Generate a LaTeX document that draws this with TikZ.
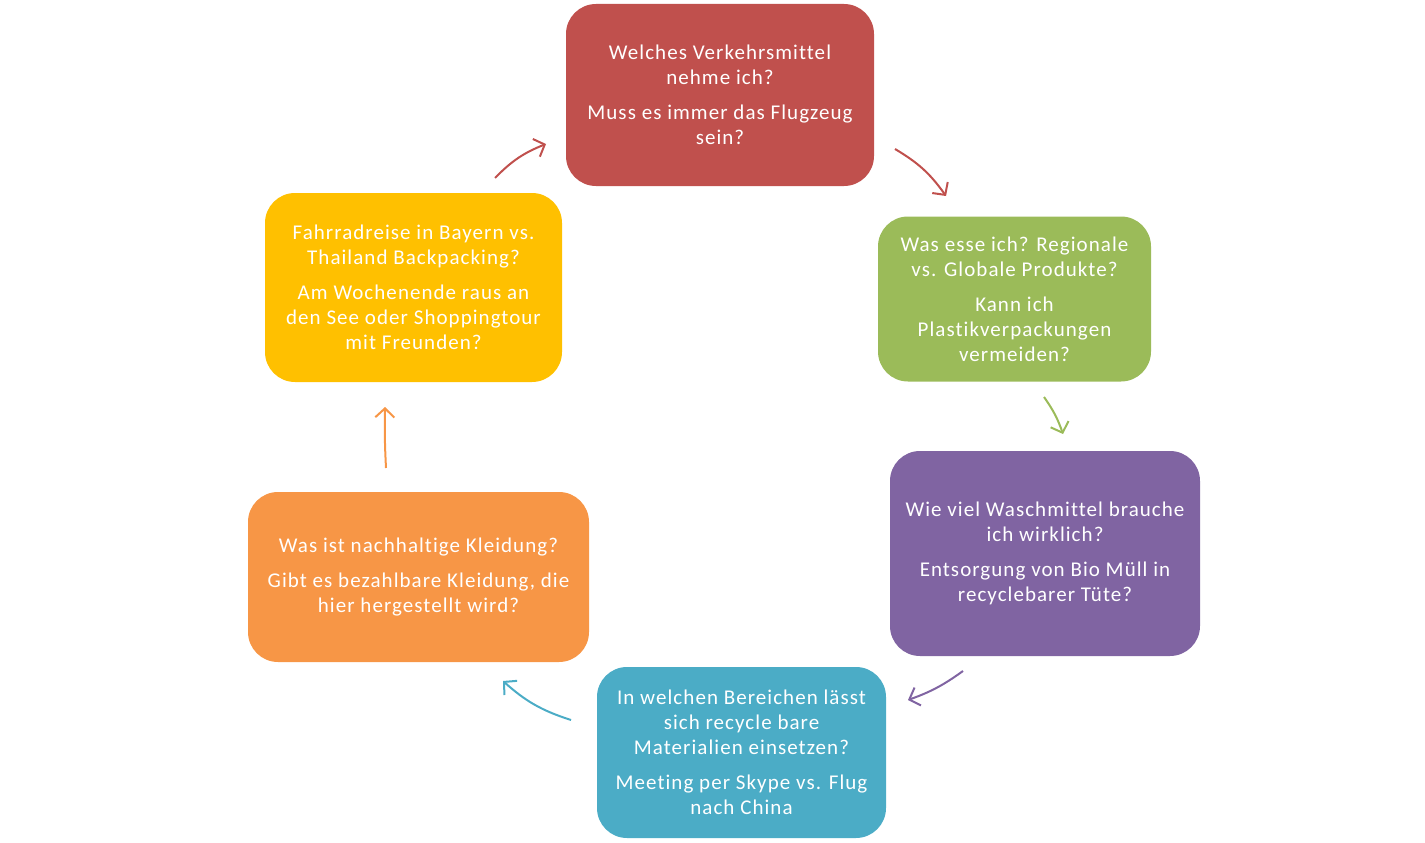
\documentclass[tikz,border=0pt]{standalone}
\usepackage{fontspec}
\setmainfont{Carlito}[Ligatures={NoCommon}, LetterSpace=5]
\usetikzlibrary{arrows.meta}
\definecolor{boxred}{HTML}{C0504D}
\definecolor{boxgreen}{HTML}{9BBB59}
\definecolor{boxpurple}{HTML}{8064A2}
\definecolor{boxteal}{HTML}{4BACC6}
\definecolor{boxorange}{HTML}{F79646}
\definecolor{boxyellow}{HTML}{FFC000}
\tikzset{
  stage/.style={rectangle, rounded corners=30pt, inner sep=0pt, text=white, align=center, font=\fontsize{21}{25}\selectfont},
  turn/.style={line width=2pt, -{Straight Barb[length=9pt,width=19pt]}, bend left=12},
}

\begin{document}
\begin{tikzpicture}[x=1pt,y=-1pt]
				%%%%% START %%%%%
				\def\gap{10pt}
				\useasboundingbox (0,0) rectangle (1425,843);
				
				\node[stage, fill=boxred, minimum width=308pt, minimum height=182pt] (verkehr) at (720,95) {Welches Verkehrsmittel\\nehme ich?\\[\gap]Muss es immer das Flugzeug\\sein?};
				\node[stage, fill=boxgreen, minimum width=273pt, minimum height=165pt] (essen) at (1014.5,299) {Was esse ich? Regionale\\vs. Globale Produkte?\\[\gap]Kann ich\\Plastikverpackungen\\vermeiden?};
				\node[stage, fill=boxpurple, minimum width=310pt, minimum height=205pt] (waschen) at (1045,553.5) {Wie viel Waschmittel brauche\\ich wirklich?\\[\gap]Entsorgung von Bio Müll in\\recyclebarer Tüte?};
				\node[stage, fill=boxteal, minimum width=289pt, minimum height=171pt] (recycle) at (741.5,752.5) {In welchen Bereichen lässt\\sich recycle bare\\Materialien einsetzen?\\[\gap]Meeting per Skype vs. Flug\\nach China};
				\node[stage, fill=boxorange, minimum width=341pt, minimum height=170pt] (kleidung) at (418.5,577) {Was ist nachhaltige Kleidung?\\[\gap]Gibt es bezahlbare Kleidung, die\\hier hergestellt wird?};
				\node[stage, fill=boxyellow, minimum width=297pt, minimum height=189pt] (reise) at (413.5,287.5) {Fahrradreise in Bayern vs.\\Thailand Backpacking?\\[\gap]Am Wochenende raus an\\den See oder Shoppingtour\\mit Freunden?};
				
				% arrow ends, in the gaps between the boxes
				\coordinate (reiseout) at (495,178);
				\coordinate (verkehrin) at (546,144);
				\coordinate (verkehrout) at (895,149);
				\coordinate (essenin) at (946,196);
				\coordinate (essenout) at (1044,397);
				\coordinate (waschenin) at (1063,434);
				\coordinate (waschenout) at (963,671);
				\coordinate (recyclein) at (908,700);
				\coordinate (recycleout) at (571,720);
				\coordinate (kleidungin) at (503,681);
				\coordinate (kleidungout) at (386,468);
				\coordinate (reisein) at (385,407);
				
				\draw[turn, boxred] (reiseout) to (verkehrin);
				\draw[turn, boxred] (verkehrout) to (essenin);
				\draw[turn, boxgreen, bend left=8] (essenout) to (waschenin);
				\draw[turn, boxpurple, bend left=8] (waschenout) to (recyclein);
				\draw[turn, boxteal] (recycleout) to (kleidungin);
				\draw[turn, boxorange, bend left=2] (kleidungout) to (reisein);
				%%%%% END %%%%%
\end{tikzpicture}
\end{document}
